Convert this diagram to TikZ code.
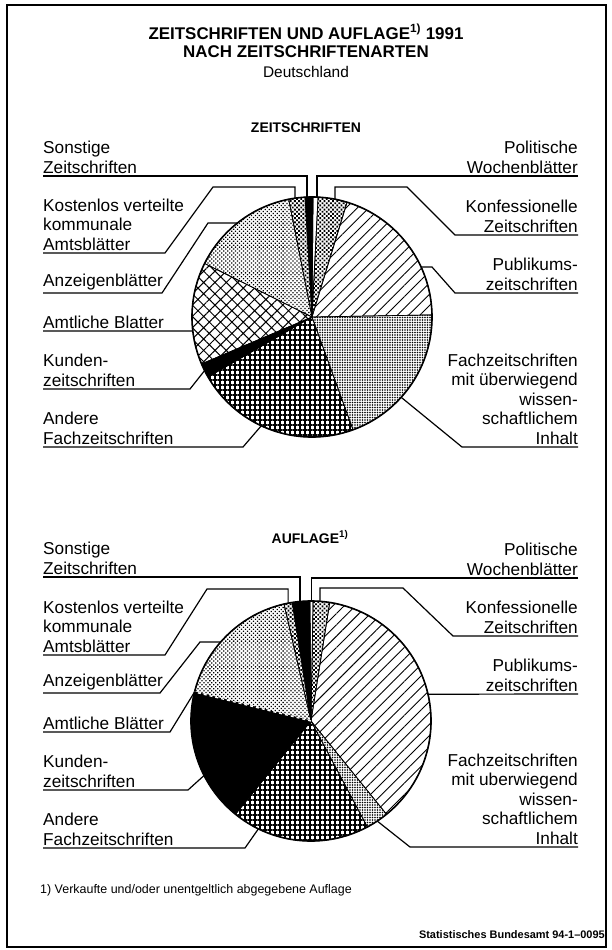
\documentclass[tikz,border=0pt]{standalone}
\usepackage{fontspec}
\setmainfont{Liberation Sans}
\usetikzlibrary{patterns.meta}

% one wedge of a pie: centre, from, to (degrees clockwise from top), style
\newcommand{\pieslice}[4]{\filldraw[slc, #4] (#1) -- ++({#2-90}:120) arc[start angle={#2-90}, end angle={#3-90}, radius=120] -- cycle;}

\begin{document}
\begin{tikzpicture}[x=1bp, y=-1bp,
  lbl/.style={font=\fontsize{17.3}{19.5}\selectfont, align=left, inner xsep=0pt, inner ysep=2.5pt, anchor=south west},
  rlbl/.style={lbl, align=right, anchor=south east},
  hdr/.style={font=\bfseries\fontsize{14}{16}\selectfont},
  lead/.style={line width=1.2bp},
  slc/.style={draw=black, line width=0.7bp},
  rim/.style={line width=1.6bp},
  pPol/.style={fill=white},
  pKonf/.style={pattern={Dots[distance=3bp, radius=1.3bp, angle=45]}},
  pPub/.style={pattern={Lines[angle=45, distance=8bp, line width=0.9bp]}},
  pFach/.style={pattern={Dots[distance=2.5bp, radius=0.95bp]}},
  pAnd/.style={pattern={Hatch[angle=0, distance=5bp, line width=1.5bp]}},
  pKund/.style={fill=black},
  pAmtl/.style={pattern={Hatch[angle=45, distance=8bp, line width=1bp]}},
  pAnz/.style={pattern={Dots[distance=2.8bp, radius=0.9bp, angle=45]}},
  pKost/.style={pattern={Dots[distance=3bp, radius=1.3bp, angle=45]}},
  pSonst/.style={fill=black}
]
  \useasboundingbox (0,0) rectangle (612,950);
  \draw[line width=1.2bp] (7,5) rectangle (606,947);

  % Titles
  \node[font=\bfseries\fontsize{17}{18.5}\selectfont, align=center] (title) at (306,41) {ZEITSCHRIFTEN UND AUFLAGE\textsuperscript{1)} 1991\\NACH ZEITSCHRIFTENARTEN};
  \node[font=\fontsize{15.5}{18}\selectfont] (land) at (306,72) {Deutschland};

  % Zeitschriften
  \node[hdr] (hzeit) at (306,128) {ZEITSCHRIFTEN};
  \coordinate (c1) at (312,317);
  \pieslice{c1}{0.5}{2.9}{pPol}
  \pieslice{c1}{2.9}{17}{pKonf}
  \pieslice{c1}{17}{89}{pPub}
  \pieslice{c1}{89}{160}{pFach}
  \pieslice{c1}{160}{240}{pAnd}
  \pieslice{c1}{240}{247}{pKund}
  \pieslice{c1}{247}{296.5}{pAmtl}
  \pieslice{c1}{296.5}{348.8}{pAnz}
  \pieslice{c1}{348.8}{356.7}{pKost}
  \pieslice{c1}{356.7}{360.5}{pSonst}
  \draw[rim] (c1) circle[radius=120];

  \path (c1) ++(267.6:120) coordinate (e1sonst) (c1) ++(261.9:120) coordinate (e1kost)
        (c1) ++(231.6:120) coordinate (e1anz) (c1) ++(173.3:120) coordinate (e1amtl)
        (c1) ++(153.5:120) coordinate (e1kund) (c1) ++(115:120) coordinate (e1and)
        (c1) ++(-87.6:120) coordinate (e1pol) (c1) ++(-78.95:120) coordinate (e1konf)
        (c1) ++(-24.6:120) coordinate (e1pub) (c1) ++(42:120) coordinate (e1fach);

  \node[lbl] (sonst1) at (43,176) {Sonstige\\Zeitschriften};
  \node[lbl] (kost1) at (43,253) {Kostenlos verteilte\\kommunale\\Amtsblätter};
  \node[lbl] (anz1) at (43,293) {Anzeigenblätter};
  \node[lbl] (amtl1) at (43,331) {Amtliche Blatter};
  \node[lbl] (kund1) at (43,389) {Kunden-\\zeitschriften};
  \node[lbl] (and1) at (43,447) {Andere\\Fachzeitschriften};
  \node[rlbl] (pol1) at (578,176) {Politische\\Wochenblätter};
  \node[rlbl] (konf1) at (578,235) {Konfessionelle\\Zeitschriften};
  \node[rlbl] (pub1) at (578,293) {Publikums-\\zeitschriften};
  \node[rlbl] (fach1) at (578,447) {Fachzeitschriften\\mit überwiegend\\wissen-\\schaftlichem\\Inhalt};

  \draw[lead] (sonst1.south west) -| (e1sonst);
  \draw[lead] (kost1.south west) -- ++(122,0) -- ++(48,-66) -| (e1kost);
  \draw[lead] (anz1.south west) -- ++(119,0) -- ++(46,-70) -- (e1anz);
  \draw[lead] (amtl1.south west) -- (e1amtl);
  \draw[lead] (kund1.south west) -- ++(147,0) -- (e1kund);
  \draw[lead] (and1.south west) -- ++(200,0) -- (e1and);
  \draw[lead] (pol1.south east) -| (e1pol);
  \draw[lead] (konf1.south east) -- ++(-123,0) -- ++(-48,-48) -| (e1konf);
  \draw[lead] (pub1.south east) -- ++(-123,0) -- ++(-23,-26) -- (e1pub);
  \draw[lead] (fach1.south east) -- ++(-116,0) -- (e1fach);

  % Auflage
  \node[hdr] (hauf) at (310,537) {AUFLAGE\textsuperscript{1)}};
  \coordinate (c2) at (311,721);
  \pieslice{c2}{-0.5}{1}{pPol}
  \pieslice{c2}{1}{9}{pKonf}
  \pieslice{c2}{9}{141}{pPub}
  \pieslice{c2}{141}{152}{pFach}
  \pieslice{c2}{152}{219}{pAnd}
  \pieslice{c2}{219}{284}{pKund}
  \pieslice{c2}{284}{347}{pAnz}
  \pieslice{c2}{347}{351}{pKost}
  \pieslice{c2}{351}{359.5}{pSonst}
  \draw[rim] (c2) circle[radius=120];

  \path (c2) ++(264.7:120) coordinate (e2sonst) (c2) ++(259:120) coordinate (e2kost)
        (c2) ++(221.2:120) coordinate (e2anz) (c2) ++(194:120) coordinate (e2amtl)
        (c2) ++(153:120) coordinate (e2kund) (c2) ++(116:120) coordinate (e2and)
        (c2) ++(-89.8:120) coordinate (e2pol) (c2) ++(-85.7:120) coordinate (e2konf)
        (c2) ++(-12.9:120) coordinate (e2pub) (c2) ++(56.5:120) coordinate (e2fach);
  \draw[white, dashed, line width=1.3bp] (c2) -- (e2amtl);

  \node[lbl] (sonst2) at (43,577) {Sonstige\\Zeitschriften};
  \node[lbl] (kost2) at (43,655) {Kostenlos verteilte\\kommunale\\Amtsblätter};
  \node[lbl] (anz2) at (43,693) {Anzeigenblätter};
  \node[lbl] (amtl2) at (43,732) {Amtliche Blätter};
  \node[lbl] (kund2) at (43,790) {Kunden-\\zeitschriften};
  \node[lbl] (and2) at (43,848) {Andere\\Fachzeitschriften};
  \node[rlbl] (pol2) at (578,578) {Politische\\Wochenblätter};
  \node[rlbl] (konf2) at (578,636) {Konfessionelle\\Zeitschriften};
  \node[rlbl] (pub2) at (578,694) {Publikums-\\zeitschriften};
  \node[rlbl] (fach2) at (578,847) {Fachzeitschriften\\mit uberwiegend\\wissen-\\schaftlichem\\Inhalt};

  \draw[lead] (sonst2.south west) -| (e2sonst);
  \draw[lead] (kost2.south west) -- ++(122,0) -- ++(42,-66) -| (e2kost);
  \draw[lead] (anz2.south west) -- ++(117,0) -- ++(40,-51) -- (e2anz);
  \draw[lead] (amtl2.south west) -- ++(127,0) -- (e2amtl);
  \draw[lead] (kund2.south west) -- ++(145,0) -- (e2kund);
  \draw[lead] (and2.south west) -- ++(202,0) -- (e2and);
  \draw[lead] (pol2.south east) -| (e2pol);
  \draw[lead] (konf2.south east) -- ++(-125,0) -- ++(-50,-48) -| (e2konf);
  \draw[lead] (pub2.south east) -- (e2pub);
  \draw[lead] (fach2.south east) -- ++(-168,0) -- (e2fach);

  % Footnote and source
  \node[font=\fontsize{12.5}{15}\selectfont, anchor=west, inner sep=0pt] (fn) at (40,890) {1) Verkaufte und/oder unentgeltlich abgegebene Auflage};
  \node[font=\bfseries\fontsize{11}{13}\selectfont, anchor=east, inner sep=0pt] (src) at (605,935) {Statistisches Bundesamt 94-1--0095};
\end{tikzpicture}
\end{document}
